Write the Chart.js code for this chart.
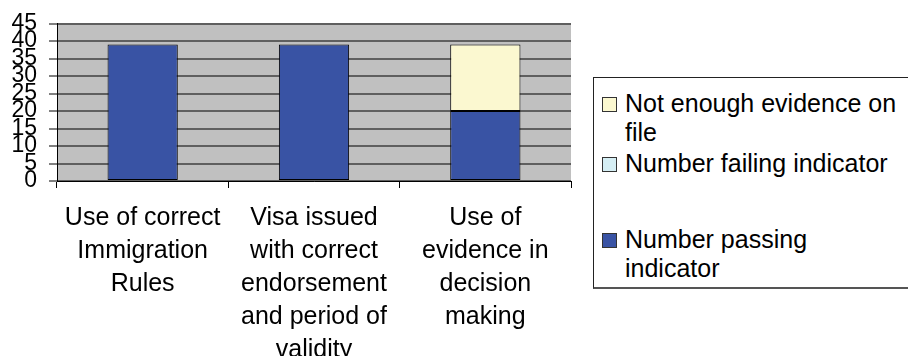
<!DOCTYPE html>
<html>
<head>
<meta charset="utf-8">
<script src="https://cdn.jsdelivr.net/npm/chart.js@4/dist/chart.umd.min.js"></script>
<style>
  html, body { margin: 0; padding: 0; background: #fff; }
  #wrap { position: relative; width: 908px; height: 356px; overflow: hidden; font-family: "Liberation Sans", Arial, sans-serif; }
  #chart { position: absolute; left: 0; top: 0; }
  #legend { position: absolute; left: 593px; top: 77px; width: 330px; height: 212px; border: 1px solid #222; border-bottom: 2px solid #555; background: #fff; box-sizing: border-box; }
  .item { position: absolute; left: 31px; width: 275px; font-size: 25px; line-height: 29px; color: #000; }
  .swatch { position: absolute; left: -23px; top: 8px; width: 13px; height: 13px; border: 1px solid #333; }
</style>
</head>
<body>
<div id="wrap">
  <canvas id="chart" width="908" height="356"></canvas>
  <div id="legend"></div>
</div>
<script>
// Assessment categories (wrapped over several lines under the axis)
const categories = [
  ["Use of correct", "Immigration", "Rules"],
  ["Visa issued", "with correct", "endorsement", "and period of", "validity"],
  ["Use of", "evidence in", "decision", "making"]
];

// Series values (stacked)
const passingValues = [39, 39, 20];
const failingValues = [0, 0, 0];
const notEnoughValues = [0, 0, 19];

const seriesNames = ["Number passing indicator", "Number failing indicator", "Not enough evidence on file"];
const seriesColors = ["#3953A4", "#D5EEF4", "#FBF8D0"];

// Y axis ticks
const yTickMin = 0;
const yTickMax = 45;
const yTickStep = 5;

const FONT = "'Liberation Sans', Arial, sans-serif";

// Grey plot background
const plotBackground = {
  id: "plotBackground",
  beforeDraw(chart) {
    const { ctx, chartArea: a } = chart;
    ctx.save();
    ctx.fillStyle = "#C0C0C0";
    ctx.fillRect(a.left, a.top, a.right - a.left, a.bottom - a.top);
    ctx.restore();
  }
};

const datasets = [passingValues, failingValues, notEnoughValues].map((vals, i) => ({
  label: seriesNames[i],
  data: vals,
  backgroundColor: seriesColors[i],
  borderColor: "#000",
  // empty segments get no outline
  borderWidth: (ctx) => (ctx.raw ? 1 : 0),
  borderSkipped: false,
  categoryPercentage: 1,
  barPercentage: 0.41
}));

const chart = new Chart(document.getElementById("chart"), {
  type: "bar",
  data: { labels: categories, datasets },
  plugins: [plotBackground],
  options: {
    responsive: false,
    animation: false,
    layout: { padding: { left: 0, right: 337, top: 23, bottom: 0 } },
    plugins: { legend: { display: false }, tooltip: { enabled: false } },
    scales: {
      x: {
        stacked: true,
        afterFit(scale) { scale.height = 175; },
        grid: { display: true, drawOnChartArea: false, offset: true, tickLength: 7, tickColor: "#000", tickWidth: 1 },
        border: { display: true, color: "#000", width: 1 },
        ticks: { color: "#000", padding: 14, maxRotation: 0, autoSkip: false, font: { family: FONT, size: 25, lineHeight: 1.32 } }
      },
      y: {
        stacked: true,
        min: yTickMin,
        max: yTickMax,
        afterFit(scale) { scale.width = 57; },
        grid: { color: "#5F5F5F", lineWidth: 2, tickLength: 8, tickColor: "#000", tickWidth: 1 },
        border: { display: true, color: "#000", width: 1 },
        ticks: { stepSize: yTickStep, autoSkip: false, color: "#000", padding: 12, font: { family: FONT, size: 23, lineHeight: 1 } }
      }
    }
  }
});

// Legend listing the series top-down in stack order
const legendTops = [11, 71, 147];
const legend = document.getElementById("legend");
chart.data.datasets.slice().reverse().forEach((ds, i) => {
  const item = document.createElement("div");
  item.className = "item";
  item.style.top = legendTops[i] + "px";
  const sw = document.createElement("span");
  sw.className = "swatch";
  sw.style.background = ds.backgroundColor;
  item.appendChild(sw);
  item.appendChild(document.createTextNode(ds.label));
  legend.appendChild(item);
});
</script>
</body>
</html>
